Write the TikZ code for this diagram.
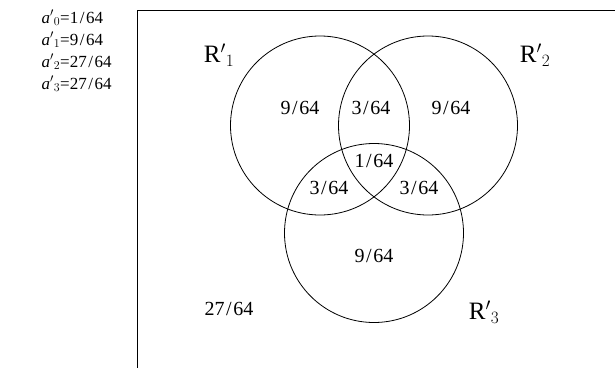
\documentclass[tikz,border=0pt]{standalone}
\usepackage{fontspec}
\setmainfont{Liberation Serif}
\usepackage{tikz}

\tikzset{
  set/.style={circle,draw,line width=0.8pt,minimum size=179pt,inner sep=0pt},
  prob/.style={font=\fontsize{20}{22}\selectfont},
  setname/.style={font=\fontsize{25}{27}\selectfont},
  given/.style={font=\fontsize{17}{19}\selectfont,anchor=west}
}
\newcommand{\frc}[2]{#1\kern1.5pt/\kern1.5pt#2}

\begin{document}
\begin{tikzpicture}[x=1pt,y=-1pt]
\useasboundingbox (0,0) rectangle (615,367);
\draw[line width=0.8pt] (137.5,380) -- (137.5,10) -- (630,10);
% the three sets
\node[set] (r1) at (320,125.5) {};
\node[set] (r2) at (428,125.5) {};
\node[set] (r3) at (374,233) {};
\node[setname] (n1) at (219,55) {R$'{}_1$};
\node[setname] (n2) at (535,55) {R$'{}_2$};
\node[setname] (n3) at (484,312) {R$'{}_3$};
% region values
\node[prob] (p1) at (300,108) {\frc{9}{64}};
\node[prob] (p12) at (371,108) {\frc{3}{64}};
\node[prob] (p2) at (451,108) {\frc{9}{64}};
\node[prob] (p123) at (374,161) {\frc{1}{64}};
\node[prob] (p13) at (329,188) {\frc{3}{64}};
\node[prob] (p23) at (419,188) {\frc{3}{64}};
\node[prob] (p3) at (374,256) {\frc{9}{64}};
\node[prob] (p0) at (229,309) {\frc{27}{64}};
% given values
\node[given] (a0) at (38,18) {\textit{a}$'{}_0$=\frc{1}{64}};
\node[given] (a1) at (38,40) {\textit{a}$'{}_1$=\frc{9}{64}};
\node[given] (a2) at (38,62) {\textit{a}$'{}_2$=\frc{27}{64}};
\node[given] (a3) at (38,84) {\textit{a}$'{}_3$=\frc{27}{64}};
\end{tikzpicture}
\end{document}
